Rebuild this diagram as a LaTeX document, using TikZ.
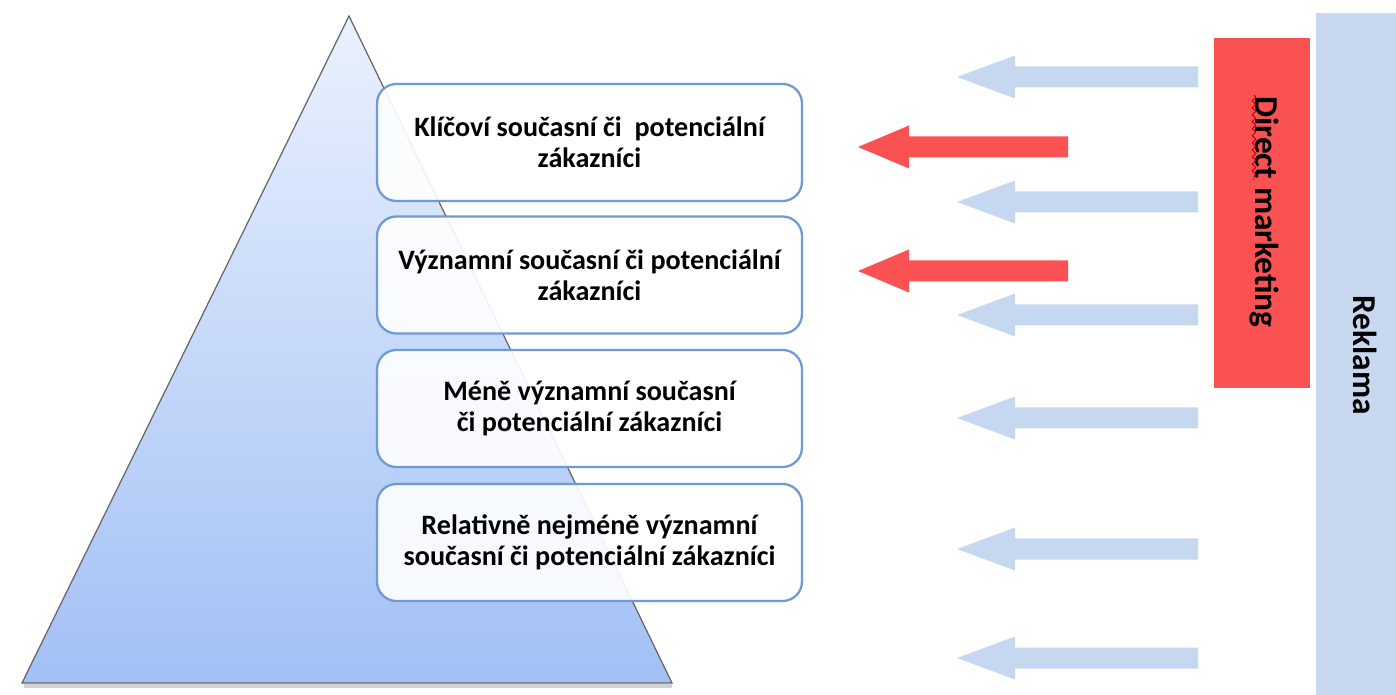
\documentclass[tikz,border=0pt]{standalone}
\usepackage{fontspec}
\setmainfont{Carlito}
\usetikzlibrary{positioning,decorations.pathmorphing}

\definecolor{pyrtop}{HTML}{EAF1FD}
\definecolor{pyrbot}{HTML}{A2C0F5}
\definecolor{boxline}{HTML}{6E9BD5}
\definecolor{lightarrow}{HTML}{C6D8F0}
\definecolor{dmred}{HTML}{FA5252}
\definecolor{reklbar}{HTML}{C8D8EE}

\tikzset{
  level/.style={draw=boxline, line width=1.3pt, rounded corners=11pt,
    fill=white, fill opacity=0.9, text opacity=1,
    minimum width=8.5cm, minimum height=2.34cm, align=center,
    font=\fontsize{16}{17.5}\selectfont\bfseries},
  sidetext/.style={rotate=-90, font=\fontsize{19}{22}\selectfont\bfseries},
}

\begin{document}
\begin{tikzpicture}[x=0.02cm, y=-0.02cm]
    % --- rozmery obrazku ---
    \useasboundingbox (0,0) rectangle (1396,695);
    \fill[white] (0,0) rectangle (1396,695);

    % --- pyramida ---
    \draw[gray!35, line width=2pt] (24,686) -- (672,686);
    \shade[top color=pyrtop, bottom color=pyrbot] (349,16) -- (672,683) -- (22,683) -- cycle;
    \draw[gray!80!black, line width=0.7pt] (349,16) -- (672,683) -- (22,683) -- cycle;

    % --- skupiny zakazniku ---
    \node[level] (klic) at (589.5,142.5) {Klíčoví současní či\ \ potenciální\\zákazníci};
    \node[level] (vyzn) at (589.5,275) {Významní současní či potenciální\\zákazníci};
    \node[level] (mene) at (589.5,408.5) {Méně významní současní\\či potenciální zákazníci};
    \node[level] (nejm) at (589.5,542.5) {Relativně nejméně významní\\současní či potenciální zákazníci};

    % --- reklama (svetle modre sipky) ---
    \foreach \y in {77,202,315,418,549,658}
        \fill[lightarrow] (957,\y) -- (1015,\y-21.5) -- (1015,\y-10.5) -- (1198,\y-10.5)
            -- (1198,\y+10.5) -- (1015,\y+10.5) -- (1015,\y+21.5) -- cycle;

    % --- direct marketing (cervene sipky) ---
    \foreach \y in {147,271}
        \fill[dmred] (858,\y) -- (909,\y-21.5) -- (909,\y-10.5) -- (1068,\y-10.5)
            -- (1068,\y+10.5) -- (909,\y+10.5) -- (909,\y+21.5) -- cycle;

    % --- pruhy vpravo ---
    \fill[dmred] (1214,38) rectangle (1310,388);
    \node[sidetext] (dm) at (1264,212) {Direct marketing};
    \draw[red!70!black, line width=0.5pt, decorate,
        decoration={snake, amplitude=1pt, segment length=4pt}] (1254,95) -- (1254,180);

    \fill[reklbar] (1316,13) rectangle (1396,695);
    \node[sidetext] (rekl) at (1365,355) {Reklama};

\end{tikzpicture}
\end{document}
